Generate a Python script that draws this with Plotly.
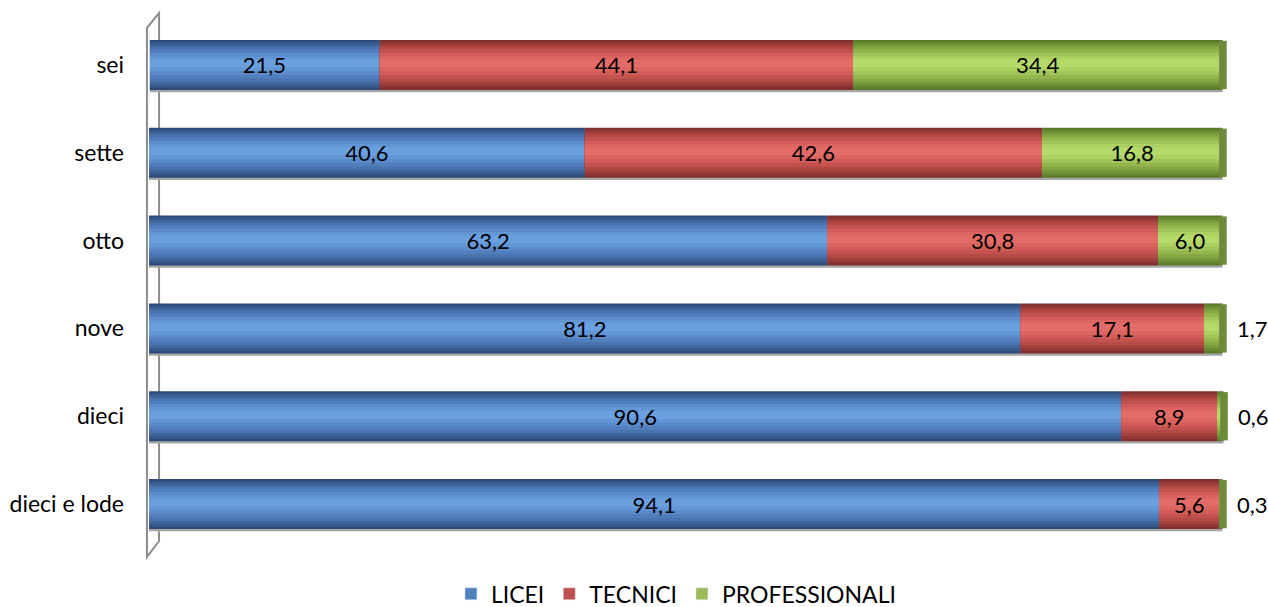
import plotly.graph_objects as go

categories = ["sei", "sette", "otto", "nove", "dieci", "dieci e lode"]
licei = [21.5, 40.6, 63.2, 81.2, 90.6, 94.1]
tecnici = [44.1, 42.6, 30.8, 17.1, 8.9, 5.6]
professionali = [34.4, 16.8, 6.0, 1.7, 0.6, 0.3]

FONT = "Lato, Open Sans, Liberation Sans, sans-serif"

# shades from the outer edge to the centre of the cylinder
series = [
    ("LICEI", licei, "#4F81BD",
     ["#2c4b77", "#36598a", "#3f679d", "#4873ae", "#517fbd", "#5a8bcb", "#6396d7", "#6a9fe0"]),
    ("TECNICI", tecnici, "#C0504D",
     ["#7f2f2d", "#913836", "#a3413f", "#b44a47", "#c4534f", "#d15c58", "#dc6561", "#e46c68"]),
    ("PROFESSIONALI", professionali, "#9BBB59",
     ["#5d7a2c", "#6a8933", "#77983b", "#85a744", "#93b64d", "#a0c457", "#acd061", "#b6da6a"]),
]

widths = [0.57, 0.52, 0.46, 0.40, 0.33, 0.25, 0.17, 0.09]

fig = go.Figure()

totals = [round(a + b + c, 1) for a, b, c in zip(licei, tecnici, professionali)]
# soft grey shadow under each bar
fig.add_trace(go.Bar(
    y=categories, x=totals, base=[0] * len(categories), orientation="h",
    width=[0.58] * len(categories), offset=-0.27,
    marker=dict(color="#a6a6a6", line=dict(width=0)),
    showlegend=False, hoverinfo="skip",
))

bases = [0.0] * len(categories)
for name, vals, legcol, shades in series:
    for w, c in zip(widths, shades):
        fig.add_trace(go.Bar(
            y=categories, x=vals, base=bases, orientation="h",
            width=[w] * len(categories), offset=-w / 2 - 0.02 * (1 - w / 0.57),
            marker=dict(color=c, line=dict(width=0)),
            showlegend=False, hoverinfo="skip",
        ))
    texts = [f"{v:.1f}".replace(".", ",") if v >= 3 else "" for v in vals]
    fig.add_trace(go.Bar(
        y=categories, x=vals, base=bases, orientation="h",
        width=[0.57] * len(categories),
        marker=dict(color="rgba(0,0,0,0)", line=dict(width=0)),
        text=texts, textposition="inside", insidetextanchor="middle",
        constraintext="none",
        textfont=dict(size=22, color="black", family=FONT),
        showlegend=False, hoverinfo="skip",
    ))
    fig.add_trace(go.Bar(
        y=[categories[0]], x=[0], name=name, orientation="h",
        marker=dict(color=legcol), showlegend=True,
        hoverinfo="skip",
    ))
    bases = [round(b + v, 1) for b, v in zip(bases, vals)]

# darker elliptical end cap of each cylinder
fig.add_trace(go.Bar(
    y=categories, x=[0.7] * len(categories), base=[t - 0.3 for t in totals],
    orientation="h", width=[0.55] * len(categories),
    marker=dict(color="#6c8a3a", line=dict(width=0)),
    showlegend=False, hoverinfo="skip",
))

for i, v in enumerate(professionali):
    if v < 3:
        fig.add_annotation(
            x=totals[i], y=categories[i], xref="x", yref="y",
            text=f"{v:.1f}".replace(".", ","), showarrow=False,
            xanchor="left", xshift=13,
            font=dict(size=22, color="black", family=FONT),
        )

fig.update_layout(
    barmode="overlay",
    width=1268, height=607,
    margin=dict(l=149, r=37, t=21, b=59, autoexpand=False),
    plot_bgcolor="white", paper_bgcolor="white",
    xaxis=dict(range=[0, 100.8], visible=False),
    yaxis=dict(
        autorange="reversed", showgrid=False, ticks="",
        showline=False, zeroline=False,
        ticklabelstandoff=24,
        tickfont=dict(size=23, color="black", family=FONT),
    ),
    legend=dict(
        orientation="h", x=0.487, xanchor="center", y=-0.087, yanchor="middle",
        font=dict(size=23, color="black", family=FONT),
        traceorder="normal", itemwidth=30,
    ),
    showlegend=True,
)

# 3D wall outline on the left
fig.add_shape(type="path", xref="paper", yref="paper", layer="below",
              path="M -0.0019,-0.017 L -0.0019,0.987 L 0.0093,1.015 L 0.0093,0.0133 Z",
              line=dict(color="#8c8c8c", width=2), fillcolor="rgba(0,0,0,0)")

fig.write_html("out.html", config={"displayModeBar": False},
               post_script="document.body.style.margin='0';document.body.style.overflow='hidden';")
